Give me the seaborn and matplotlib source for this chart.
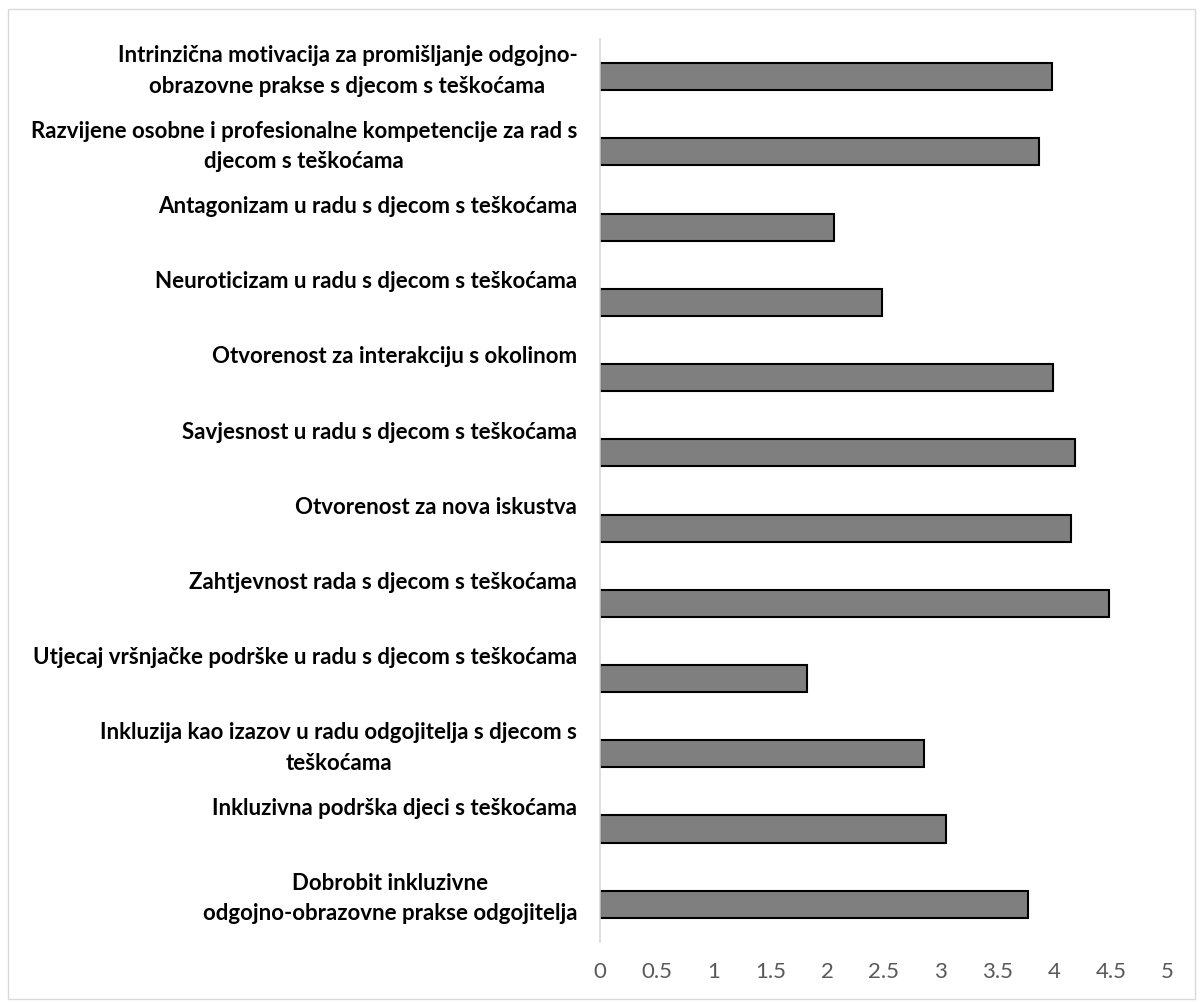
import matplotlib
matplotlib.use('Agg')
import matplotlib.pyplot as plt
import matplotlib.transforms as mtransforms
from matplotlib.patches import Rectangle
import seaborn as sns
import pandas as pd

# category labels, top to bottom (as in the reference)
labels = [
    'Intrinzična motivacija za promišljanje odgojno-\nobrazovne prakse s djecom s teškoćama',
    'Razvijene osobne i profesionalne kompetencije za rad s\ndjecom s teškoćama',
    'Antagonizam u radu s djecom s teškoćama',
    'Neuroticizam u radu s djecom s teškoćama',
    'Otvorenost za interakciju s okolinom',
    'Savjesnost u radu s djecom s teškoćama',
    'Otvorenost za nova iskustva',
    'Zahtjevnost rada s djecom s teškoćama',
    'Utjecaj vršnjačke podrške u radu s djecom s teškoćama',
    'Inkluzija kao izazov u radu odgojitelja s djecom s\nteškoćama',
    'Inkluzivna podrška djeci s teškoćama',
    'Dobrobit inkluzivne\nodgojno-obrazovne prakse odgojitelja',
]
scores = [3.98, 3.87, 2.06, 2.48, 3.99, 4.18, 4.15, 4.48, 1.82, 2.85, 3.05, 3.77]
xticks = [0, 0.5, 1, 1.5, 2, 2.5, 3, 3.5, 4, 4.5, 5]
xtick_labels = ['0', '0.5', '1', '1.5', '2', '2.5', '3', '3.5', '4', '4.5', '5']

sns.set_theme(style='white')
plt.rcParams['font.family'] = ['Lato', 'DejaVu Sans']

df = pd.DataFrame({'label': labels, 'score': scores})

fig = plt.figure(figsize=(12, 10.03), dpi=100)
ax = fig.add_axes([0.5, 0.06, 0.473, 0.90])

sns.barplot(data=df, x='score', y='label', orient='h', color='#7f7f7f',
            saturation=1, edgecolor='black', linewidth=1.5, width=0.36, ax=ax)

ax.set_xlim(0, 5)
ax.set_ylim(11.5, -0.5)
ax.set_xticks(xticks)
ax.set_xticklabels(xtick_labels)
ax.tick_params(axis='x', length=0, labelcolor='#595959', labelsize=16, pad=14)
ax.tick_params(axis='y', length=0, labelleft=False)
ax.set_xlabel('')
ax.set_ylabel('')
for side in ['top', 'right', 'bottom']:
    ax.spines[side].set_visible(False)
ax.spines['left'].set_color('#d9d9d9')
ax.spines['left'].set_linewidth(1.2)

# labels sit at the top of each category slot, like the original
trans = mtransforms.blended_transform_factory(ax.transAxes, ax.transData)
for i, lab in enumerate(labels):
    ax.text(-0.04, i - 0.43, lab, transform=trans, ha='right', va='top',
            multialignment='center', fontweight='bold', fontsize=16,
            linespacing=1.55, color='black')

fig.patches.append(Rectangle((0.007, 0.003), 0.989, 0.987, transform=fig.transFigure,
                             fill=False, edgecolor='#d9d9d9', linewidth=1))

fig.savefig('out.png', dpi=100)
